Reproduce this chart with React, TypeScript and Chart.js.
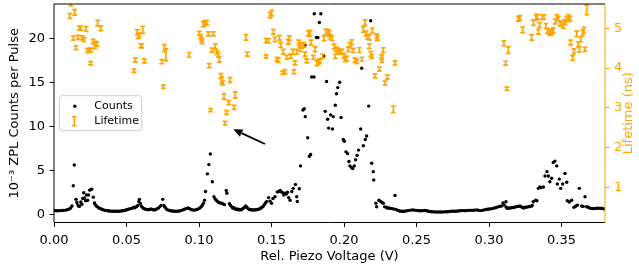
import React, { useEffect, useRef } from "react";
import { Chart, registerables } from "chart.js";

Chart.register(...registerables);

// ---------- axis settings ----------
const xRange = [0, 0.38];
const xStep = 0.05;
const countsRange = [-0.93, 23.9];
const countsStep = 5;
const lifetimeRange = [0.114, 5.61];
const lifetimeStep = 1;

const xTitle = "Rel. Piezo Voltage (V)";
const yTitle = "10\u207B\u00B3 ZPL Counts per Pulse";
const y1Title = "Lifetime (ns)";
const legendLabels = ["Counts", "Lifetime"];

// ---------- data: [voltage (V), 1e-3 ZPL counts per pulse] ----------
const counts: [number, number][] = [
  [0.0005, 0.42], [0.0017, 0.4], [0.003, 0.41], [0.0042, 0.42], [0.0055, 0.43], [0.0067, 0.45],
  [0.008, 0.48], [0.0092, 0.52], [0.0105, 0.6], [0.0115, 0.72], [0.0124, 0.95], [0.0133, 3.25],
  [0.014, 5.6], [0.0152, 1.7], [0.0158, 1.35], [0.0165, 1.05], [0.0172, 0.9], [0.0178, 0.95],
  [0.0185, 1.4], [0.0192, 1.15], [0.0198, 1.8], [0.0205, 2.45], [0.021, 1.85], [0.0218, 1.55],
  [0.0224, 2.2], [0.0232, 1.6], [0.0238, 2.2], [0.0245, 2.75], [0.0253, 2.8], [0.026, 2.85],
  [0.0271, 1.95], [0.0279, 1.3], [0.0285, 1.1], [0.0292, 0.95], [0.03, 0.85], [0.0308, 0.75],
  [0.0316, 0.68], [0.0325, 0.6], [0.0334, 0.55], [0.0343, 0.5], [0.0352, 0.45], [0.0362, 0.42],
  [0.0372, 0.4], [0.0382, 0.38], [0.0392, 0.36], [0.0402, 0.35], [0.0412, 0.35], [0.0422, 0.34],
  [0.0432, 0.35], [0.0442, 0.35], [0.0452, 0.36], [0.0462, 0.38], [0.0472, 0.4], [0.0482, 0.43],
  [0.0492, 0.47], [0.0502, 0.52], [0.0512, 0.58], [0.0522, 0.62], [0.053, 0.65], [0.054, 0.7],
  [0.055, 0.8], [0.0558, 0.75], [0.0565, 0.85], [0.0572, 0.9], [0.0578, 1.0], [0.0585, 1.45],
  [0.0589, 1.7], [0.0596, 1.2], [0.0604, 0.9], [0.0612, 0.75], [0.062, 0.65], [0.0628, 0.6],
  [0.0638, 0.55], [0.0648, 0.52], [0.0658, 0.55], [0.0668, 0.6], [0.0678, 0.55], [0.0688, 0.5],
  [0.0698, 0.52], [0.0708, 0.6], [0.0718, 0.7], [0.0728, 0.85], [0.0738, 1.0], [0.075, 1.7],
  [0.0758, 1.0], [0.0766, 0.8], [0.0775, 0.6], [0.0785, 0.5], [0.0795, 0.45], [0.0805, 0.4],
  [0.0815, 0.38], [0.0825, 0.36], [0.0835, 0.35], [0.0845, 0.35], [0.0855, 0.36], [0.0865, 0.38],
  [0.0875, 0.42], [0.0885, 0.48], [0.0895, 0.55], [0.0905, 0.62], [0.0915, 0.68], [0.0925, 0.72],
  [0.0935, 0.65], [0.0945, 0.55], [0.0955, 0.5], [0.0965, 0.48], [0.0975, 0.5], [0.0985, 0.55],
  [0.0995, 0.62], [0.1005, 0.72], [0.1015, 0.85], [0.1022, 1.0], [0.103, 1.25], [0.1038, 1.6],
  [0.1045, 2.6], [0.1058, 4.6], [0.1068, 5.65], [0.1078, 6.85], [0.1092, 3.7], [0.1103, 2.0],
  [0.1112, 1.75], [0.112, 1.6], [0.1128, 1.45], [0.1136, 1.35], [0.1145, 1.3], [0.1155, 1.25],
  [0.1165, 1.2], [0.1175, 1.1], [0.1188, 2.7], [0.1192, 2.4], [0.121, 1.2], [0.1218, 1.0],
  [0.1226, 0.85], [0.1234, 0.7], [0.1242, 0.75], [0.125, 0.6], [0.1258, 0.55], [0.1266, 0.6],
  [0.1274, 0.5], [0.1282, 0.55], [0.129, 0.5], [0.1298, 0.6], [0.1306, 0.7], [0.1314, 0.8],
  [0.1322, 0.95], [0.133, 0.8], [0.1338, 0.65], [0.1346, 0.55], [0.1354, 0.55], [0.1362, 0.5],
  [0.137, 0.5], [0.1378, 0.5], [0.1386, 0.5], [0.1394, 0.52], [0.1402, 0.55], [0.141, 0.58],
  [0.1418, 0.62], [0.1426, 0.7], [0.1434, 0.8], [0.1442, 0.9], [0.145, 1.1], [0.1458, 1.3],
  [0.1467, 1.45], [0.148, 1.9], [0.149, 1.5], [0.15, 1.25], [0.151, 1.8], [0.1524, 2.0],
  [0.154, 2.55], [0.155, 2.6], [0.156, 2.7], [0.1568, 2.55], [0.1577, 2.45], [0.1585, 2.2],
  [0.1593, 2.4], [0.1602, 2.3], [0.161, 2.5], [0.1618, 1.9], [0.1628, 1.6], [0.164, 2.6],
  [0.165, 2.95], [0.1665, 3.4], [0.1674, 2.0], [0.1678, 1.45], [0.1692, 2.9], [0.17, 5.5],
  [0.1717, 11.85], [0.1726, 12.0], [0.1733, 11.1], [0.173, 19.2], [0.175, 8.7], [0.1761, 6.6],
  [0.177, 6.8], [0.1777, 15.6], [0.1793, 15.6], [0.1795, 22.8], [0.181, 20.1], [0.182, 20.1],
  [0.183, 21.8], [0.184, 22.8], [0.186, 18.0], [0.187, 11.7], [0.188, 15.1], [0.1887, 10.8],
  [0.1894, 9.8], [0.1908, 11.3], [0.192, 9.7], [0.1926, 11.1], [0.194, 12.4], [0.1948, 13.7],
  [0.1957, 14.4], [0.197, 15.0], [0.198, 11.0], [0.1995, 8.5], [0.2002, 8.3], [0.2014, 7.1],
  [0.2025, 6.9], [0.2034, 6.0], [0.2041, 5.5], [0.2053, 5.3], [0.206, 5.2], [0.2071, 5.5],
  [0.208, 6.2], [0.209, 6.7], [0.21, 7.3], [0.2115, 9.7], [0.2122, 16.6], [0.2133, 7.8],
  [0.2147, 8.5], [0.2156, 8.9], [0.217, 12.3], [0.2184, 22.0], [0.2191, 5.8], [0.2202, 4.85],
  [0.2205, 3.9], [0.222, 1.25], [0.2225, 0.86], [0.2241, 1.6], [0.2253, 1.45], [0.2262, 1.35],
  [0.2271, 1.25], [0.228, 0.85], [0.2292, 0.8], [0.23, 0.7], [0.231, 0.72], [0.232, 0.68],
  [0.233, 0.65], [0.2342, 0.6], [0.2352, 2.15], [0.236, 0.55], [0.237, 0.45], [0.238, 0.4],
  [0.239, 0.35], [0.2402, 0.34], [0.2414, 0.35], [0.2426, 0.37], [0.2438, 0.42], [0.245, 0.45],
  [0.2462, 0.48], [0.2474, 0.5], [0.2486, 0.48], [0.2498, 0.45], [0.251, 0.42], [0.2522, 0.4],
  [0.2534, 0.4], [0.2546, 0.42], [0.2558, 0.43], [0.257, 0.4], [0.2582, 0.35], [0.2594, 0.32],
  [0.2606, 0.3], [0.2618, 0.28], [0.263, 0.27], [0.2642, 0.26], [0.2654, 0.26], [0.2666, 0.27],
  [0.2678, 0.27], [0.269, 0.28], [0.2702, 0.29], [0.2714, 0.3], [0.2726, 0.32], [0.2738, 0.34],
  [0.275, 0.35], [0.2762, 0.35], [0.2774, 0.36], [0.2786, 0.38], [0.2798, 0.4], [0.281, 0.42],
  [0.2822, 0.42], [0.2834, 0.4], [0.2846, 0.42], [0.2858, 0.45], [0.287, 0.45], [0.2882, 0.45],
  [0.2894, 0.46], [0.2906, 0.48], [0.2918, 0.5], [0.293, 0.45], [0.2942, 0.42], [0.2954, 0.45],
  [0.2966, 0.5], [0.2978, 0.55], [0.299, 0.58], [0.3002, 0.6], [0.3014, 0.62], [0.3026, 0.68],
  [0.3038, 0.72], [0.305, 0.78], [0.3062, 0.85], [0.3074, 0.9], [0.3086, 0.95], [0.3097, 1.3],
  [0.3105, 1.05], [0.3117, 1.43], [0.312, 0.8], [0.3125, 0.68], [0.3135, 0.7], [0.3145, 0.72],
  [0.3155, 0.75], [0.3165, 0.78], [0.3175, 0.8], [0.3185, 0.85], [0.3195, 0.88], [0.3205, 0.9],
  [0.3214, 0.95], [0.3222, 0.85], [0.323, 0.78], [0.324, 0.72], [0.325, 0.8], [0.326, 0.82],
  [0.327, 0.85], [0.328, 0.88], [0.329, 0.9], [0.3298, 1.0], [0.3305, 1.43], [0.3322, 1.6],
  [0.333, 1.55], [0.334, 2.95], [0.335, 3.1], [0.336, 3.05], [0.3375, 3.1], [0.3386, 4.35],
  [0.34, 4.85], [0.3409, 4.35], [0.342, 3.7], [0.3432, 4.1], [0.3443, 5.9], [0.3455, 6.05],
  [0.3467, 5.5], [0.3471, 3.45], [0.3485, 4.0], [0.3494, 2.95], [0.3508, 3.45], [0.3524, 4.65],
  [0.3536, 3.65], [0.354, 1.55], [0.3554, 1.4], [0.357, 1.6], [0.3586, 0.8], [0.36, 0.95],
  [0.361, 1.05], [0.3623, 2.95], [0.3639, 0.95], [0.365, 0.9], [0.3662, 2.0], [0.3674, 0.86],
  [0.3685, 0.8], [0.3695, 0.7], [0.3705, 0.68], [0.3715, 0.65], [0.3725, 0.65], [0.3735, 0.68],
  [0.3745, 0.7], [0.3755, 0.7], [0.3765, 0.68], [0.3775, 0.7], [0.3785, 0.65], [0.3795, 0.6],
];

// ---------- data: [voltage (V), lifetime (ns), error (ns)] ----------
const lifetime: [number, number, number][] = [
  [0.011, 5.31, 0.06], [0.0117, 5.62, 0.06], [0.0133, 4.75, 0.05], [0.0143, 5.4, 0.07],
  [0.0152, 4.51, 0.05], [0.0166, 4.77, 0.05], [0.0175, 5.0, 0.05], [0.0184, 5.0, 0.05],
  [0.0193, 4.76, 0.05], [0.0207, 4.71, 0.05], [0.0221, 4.98, 0.06], [0.023, 4.44, 0.05],
  [0.0242, 4.44, 0.05], [0.0253, 4.45, 0.05], [0.0253, 4.12, 0.04], [0.027, 4.67, 0.05],
  [0.028, 4.55, 0.06], [0.0287, 4.62, 0.05], [0.0294, 4.6, 0.05], [0.0301, 5.13, 0.07],
  [0.0322, 5.0, 0.06], [0.0552, 3.93, 0.04], [0.0561, 4.2, 0.05], [0.0574, 4.9, 0.06],
  [0.0581, 4.8, 0.06], [0.0588, 4.83, 0.05], [0.0598, 4.56, 0.05], [0.0605, 4.56, 0.05],
  [0.0612, 4.96, 0.09], [0.0623, 4.18, 0.05], [0.0743, 4.16, 0.05], [0.0754, 3.53, 0.04],
  [0.0761, 4.5, 0.09], [0.0772, 4.33, 0.15], [0.0931, 4.33, 0.06],
  [0.1002, 4.87, 0.05], [0.1011, 4.79, 0.05], [0.1016, 4.72, 0.06], [0.1021, 4.66, 0.05],
  [0.103, 5.1, 0.06], [0.1041, 5.13, 0.06], [0.1053, 5.14, 0.05], [0.1064, 4.86, 0.05],
  [0.107, 4.06, 0.05], [0.108, 2.94, 0.04], [0.109, 4.45, 0.05], [0.1099, 4.86, 0.05],
  [0.1113, 4.54, 0.06], [0.1122, 4.39, 0.05], [0.1133, 4.33, 0.06], [0.114, 4.22, 0.07],
  [0.115, 3.8, 0.06], [0.1157, 3.7, 0.08], [0.1163, 3.62, 0.05], [0.1172, 3.28, 0.07],
  [0.118, 2.61, 0.05], [0.119, 2.88, 0.05], [0.1205, 3.13, 0.05], [0.1214, 3.7, 0.06],
  [0.1241, 3.01, 0.05], [0.125, 3.32, 0.08], [0.1324, 4.77, 0.07], [0.1333, 4.35, 0.05],
  [0.1462, 4.69, 0.05], [0.1478, 4.69, 0.05], [0.1462, 4.29, 0.04], [0.149, 5.33, 0.07],
  [0.1501, 5.38, 0.07], [0.1513, 4.91, 0.06], [0.1524, 4.72, 0.06], [0.1536, 4.22, 0.05],
  [0.1547, 4.2, 0.05], [0.1554, 4.76, 0.06], [0.1563, 4.58, 0.06], [0.1577, 3.88, 0.04],
  [0.1593, 3.91, 0.05], [0.1581, 4.41, 0.06], [0.1605, 4.27, 0.05], [0.1616, 4.66, 0.06],
  [0.1623, 4.75, 0.06], [0.1632, 4.3, 0.05], [0.1646, 4.41, 0.06], [0.1655, 3.91, 0.05],
  [0.1662, 4.13, 0.05], [0.1674, 4.41, 0.06], [0.1688, 4.64, 0.06], [0.1697, 4.58, 0.06],
  [0.1697, 4.47, 0.05], [0.1708, 4.56, 0.06], [0.1724, 4.58, 0.06], [0.1731, 4.35, 0.05],
  [0.1743, 4.18, 0.05], [0.1754, 4.87, 0.07], [0.1766, 4.87, 0.07], [0.1772, 4.64, 0.06],
  [0.1788, 4.27, 0.05], [0.18, 4.47, 0.06], [0.1812, 4.12, 0.06], [0.1823, 4.15, 0.06],
  [0.1834, 4.18, 0.05], [0.1853, 4.3, 0.05], [0.1862, 4.75, 0.06], [0.1874, 4.91, 0.07],
  [0.1887, 4.9, 0.07], [0.1899, 4.87, 0.07], [0.1903, 4.79, 0.06], [0.1917, 4.75, 0.06],
  [0.1931, 4.54, 0.06], [0.1945, 4.47, 0.06], [0.194, 4.29, 0.05], [0.1959, 4.44, 0.06],
  [0.1972, 4.41, 0.06], [0.1986, 4.41, 0.06], [0.2, 4.3, 0.06], [0.2007, 4.22, 0.06],
  [0.2018, 4.24, 0.06], [0.203, 4.47, 0.06], [0.2041, 4.58, 0.06], [0.2053, 4.65, 0.06],
  [0.2064, 4.44, 0.05], [0.2076, 4.2, 0.05], [0.2088, 4.16, 0.05], [0.2106, 4.45, 0.06],
  [0.2122, 4.22, 0.05], [0.2133, 4.97, 0.07], [0.2145, 5.14, 0.07], [0.2152, 4.87, 0.06],
  [0.2161, 4.79, 0.06], [0.2175, 4.77, 0.06], [0.2175, 4.55, 0.06], [0.2184, 4.35, 0.06],
  [0.2191, 4.29, 0.05], [0.2195, 4.94, 0.06], [0.2225, 4.8, 0.06], [0.223, 4.75, 0.06],
  [0.226, 4.27, 0.06], [0.226, 4.2, 0.06], [0.2271, 4.45, 0.06], [0.2244, 3.97, 0.05],
  [0.2214, 3.8, 0.05], [0.2283, 3.62, 0.05], [0.2299, 3.77, 0.05], [0.2352, 4.13, 0.05],
  [0.234, 2.96, 0.08],
  [0.3103, 4.62, 0.06], [0.3133, 4.45, 0.08], [0.3114, 4.12, 0.05], [0.3124, 3.48, 0.04],
  [0.3202, 5.24, 0.06], [0.3213, 5.26, 0.06], [0.3232, 4.96, 0.07], [0.3294, 4.77, 0.07],
  [0.3306, 5.14, 0.07], [0.3324, 5.27, 0.07], [0.3333, 5.29, 0.06], [0.334, 4.91, 0.06],
  [0.3349, 5.08, 0.06], [0.3364, 5.28, 0.06], [0.3379, 5.28, 0.06], [0.3393, 5.06, 0.06],
  [0.3402, 4.93, 0.06], [0.3417, 4.9, 0.06], [0.3424, 4.88, 0.06], [0.3434, 4.91, 0.06],
  [0.3443, 4.95, 0.06], [0.3457, 5.17, 0.06], [0.3467, 5.28, 0.06], [0.3478, 5.23, 0.06],
  [0.349, 5.12, 0.06], [0.3501, 5.11, 0.06], [0.3512, 5.06, 0.06], [0.3524, 5.15, 0.06],
  [0.3536, 5.22, 0.06], [0.3547, 5.28, 0.06], [0.3559, 5.24, 0.06], [0.3563, 4.64, 0.06],
  [0.3577, 4.25, 0.06], [0.3586, 4.42, 0.06], [0.3605, 4.86, 0.07], [0.3616, 4.6, 0.06],
  [0.3623, 4.47, 0.07], [0.3632, 4.72, 0.06], [0.3646, 4.89, 0.07], [0.3655, 4.95, 0.07],
  [0.3662, 4.47, 0.05], [0.3674, 5.46, 0.12],
];

// ---------- annotation arrow (data coordinates, left axis) ----------
const arrowTail: [number, number] = [0.1455, 7.99];
const arrowHead: [number, number] = [0.1237, 9.66];

const ORANGE = "#FFA500";
const FONT = "DejaVu Sans";

const errorBarPlugin = {
  id: "errorBars",
  afterDatasetsDraw(chart: any) {
    const { ctx, chartArea: a } = chart;
    const xs = chart.scales.x;
    const ys = chart.scales.y1;
    const ds = chart.data.datasets[1];
    ctx.save();
    ctx.beginPath();
    ctx.rect(a.left, a.top, a.right - a.left, a.bottom - a.top);
    ctx.clip();
    ctx.strokeStyle = ORANGE;
    ctx.lineWidth = 1.7;
    ds.data.forEach((p: any) => {
      const px = xs.getPixelForValue(p.x);
      const top = ys.getPixelForValue(p.y + p.err);
      const bot = ys.getPixelForValue(p.y - p.err);
      ctx.beginPath();
      ctx.moveTo(px, top);
      ctx.lineTo(px, bot);
      ctx.moveTo(px - 2.4, top);
      ctx.lineTo(px + 2.4, top);
      ctx.moveTo(px - 2.4, bot);
      ctx.lineTo(px + 2.4, bot);
      ctx.stroke();
    });
    ctx.restore();
  },
};

const decorPlugin = {
  id: "decor",
  afterDraw(chart: any) {
    const { ctx, chartArea: a } = chart;
    const xs = chart.scales.x;
    const ys = chart.scales.y;
    ctx.save();

    // arrow
    const x1 = xs.getPixelForValue(arrowTail[0]);
    const y1 = ys.getPixelForValue(arrowTail[1]);
    const x2 = xs.getPixelForValue(arrowHead[0]);
    const y2 = ys.getPixelForValue(arrowHead[1]);
    const ang = Math.atan2(y2 - y1, x2 - x1);
    const hl = 9, hw = 4;
    const bx = x2 - hl * Math.cos(ang);
    const by = y2 - hl * Math.sin(ang);
    ctx.strokeStyle = "#000";
    ctx.fillStyle = "#000";
    ctx.lineWidth = 1.8;
    ctx.beginPath();
    ctx.moveTo(x1, y1);
    ctx.lineTo(bx, by);
    ctx.stroke();
    ctx.beginPath();
    ctx.moveTo(x2, y2);
    ctx.lineTo(bx + hw * Math.sin(ang), by - hw * Math.cos(ang));
    ctx.lineTo(bx - hw * Math.sin(ang), by + hw * Math.cos(ang));
    ctx.closePath();
    ctx.fill();

    // frame
    ctx.lineWidth = 1;
    ctx.strokeStyle = "#000";
    ctx.beginPath();
    ctx.moveTo(a.right, a.top);
    ctx.lineTo(a.left, a.top);
    ctx.lineTo(a.left, a.bottom);
    ctx.lineTo(a.right, a.bottom);
    ctx.stroke();
    ctx.strokeStyle = ORANGE;
    ctx.beginPath();
    ctx.moveTo(a.right, a.top);
    ctx.lineTo(a.right, a.bottom);
    ctx.stroke();

    // legend
    const lx = a.left + 5.3, ly = a.top + 91.7, lw = 82.4, lh = 35;
    ctx.fillStyle = "rgba(255,255,255,0.8)";
    ctx.strokeStyle = "#cccccc";
    ctx.lineWidth = 1;
    ctx.beginPath();
    (ctx as any).roundRect(lx, ly, lw, lh, 3);
    ctx.fill();
    ctx.stroke();
    ctx.fillStyle = "#000";
    ctx.beginPath();
    ctx.arc(lx + 15.5, ly + 10.5, 1.7, 0, Math.PI * 2);
    ctx.fill();
    ctx.strokeStyle = ORANGE;
    ctx.lineWidth = 1.6;
    const ix = lx + 15, iy = ly + 25.5;
    ctx.beginPath();
    ctx.moveTo(ix, iy - 4.5);
    ctx.lineTo(ix, iy + 4.5);
    ctx.moveTo(ix - 2.3, iy - 4.5);
    ctx.lineTo(ix + 2.3, iy - 4.5);
    ctx.moveTo(ix - 2.3, iy + 4.5);
    ctx.lineTo(ix + 2.3, iy + 4.5);
    ctx.stroke();
    ctx.fillStyle = "#000";
    ctx.font = `11px "${FONT}"`;
    ctx.textAlign = "left";
    ctx.textBaseline = "middle";
    ctx.fillText(legendLabels[0], lx + 35, ly + 10);
    ctx.fillText(legendLabels[1], lx + 35, ly + 25.5);

    // right axis title
    ctx.fillStyle = ORANGE;
    ctx.font = `13px "${FONT}"`;
    ctx.textAlign = "center";
    ctx.textBaseline = "middle";
    ctx.translate(629, (a.top + a.bottom) / 2);
    ctx.rotate(-Math.PI / 2);
    ctx.fillText(y1Title, 0, 0);
    ctx.restore();
  },
};

export default function App() {
  const ref = useRef<HTMLCanvasElement>(null);
  useEffect(() => {
    if (!ref.current) return;
    const font = { family: FONT, size: 13 };
    const chart = new Chart(ref.current, {
      type: "scatter",
      data: {
        datasets: [
          {
            label: legendLabels[0],
            data: counts.map(([x, y]) => ({ x, y })),
            yAxisID: "y",
            pointRadius: 1.7,
            pointBackgroundColor: "#000",
            pointBorderWidth: 0,
            pointHoverRadius: 1.7,
          },
          {
            label: legendLabels[1],
            data: lifetime.map(([x, y, err]) => ({ x, y, err })) as any,
            yAxisID: "y1",
            pointRadius: 0,
            pointHoverRadius: 0,
          },
        ],
      },
      options: {
        responsive: false,
        animation: false,
        devicePixelRatio: 1,
        events: [],
        layout: { padding: { top: 4, left: 0, right: 0, bottom: 0 } },
        plugins: { legend: { display: false }, tooltip: { enabled: false } },
        scales: {
          x: {
            type: "linear",
            min: xRange[0],
            max: xRange[1],
            border: { display: false },
            grid: { drawOnChartArea: false, drawTicks: true, tickLength: 4.5, color: "#000", lineWidth: 1 },
            ticks: {
              stepSize: xStep,
              includeBounds: false,
              padding: 5.5,
              color: "#000",
              font,
              maxRotation: 0,
              callback: (v: any) => Number(v).toFixed(2),
            },
            title: { display: true, text: xTitle, color: "#000", font, padding: { top: 0, bottom: 5 } },
            afterFit: (s: any) => {
              s.height = 46.5;
              s.paddingLeft = 0;
              s.paddingRight = 0;
            },
          },
          y: {
            type: "linear",
            position: "left",
            min: countsRange[0],
            max: countsRange[1],
            border: { display: false },
            grid: { drawOnChartArea: false, drawTicks: true, tickLength: 4.5, color: "#000", lineWidth: 1 },
            ticks: { stepSize: countsStep, includeBounds: false, padding: 4.5, color: "#000", font },
            title: { display: true, text: yTitle, color: "#000", font, padding: { top: 7, bottom: 0 } },
            afterFit: (s: any) => {
              s.width = 54;
              s.paddingTop = 0;
              s.paddingBottom = 0;
            },
          },
          y1: {
            type: "linear",
            position: "right",
            min: lifetimeRange[0],
            max: lifetimeRange[1],
            border: { display: false },
            grid: { drawOnChartArea: false, drawTicks: true, tickLength: 4.5, color: ORANGE, lineWidth: 1 },
            ticks: { stepSize: lifetimeStep, includeBounds: false, padding: 4.5, color: ORANGE, font },
            afterFit: (s: any) => {
              s.width = 34;
              s.paddingTop = 0;
              s.paddingBottom = 0;
            },
          },
        },
      } as any,
      plugins: [errorBarPlugin, decorPlugin],
    });
    return () => chart.destroy();
  }, []);
  return (
    <div style={{ position: "fixed", left: 0, top: 0, width: 639, height: 269 }}>
      <canvas ref={ref} width={639} height={269} style={{ width: 639, height: 269 }} />
    </div>
  );
}
